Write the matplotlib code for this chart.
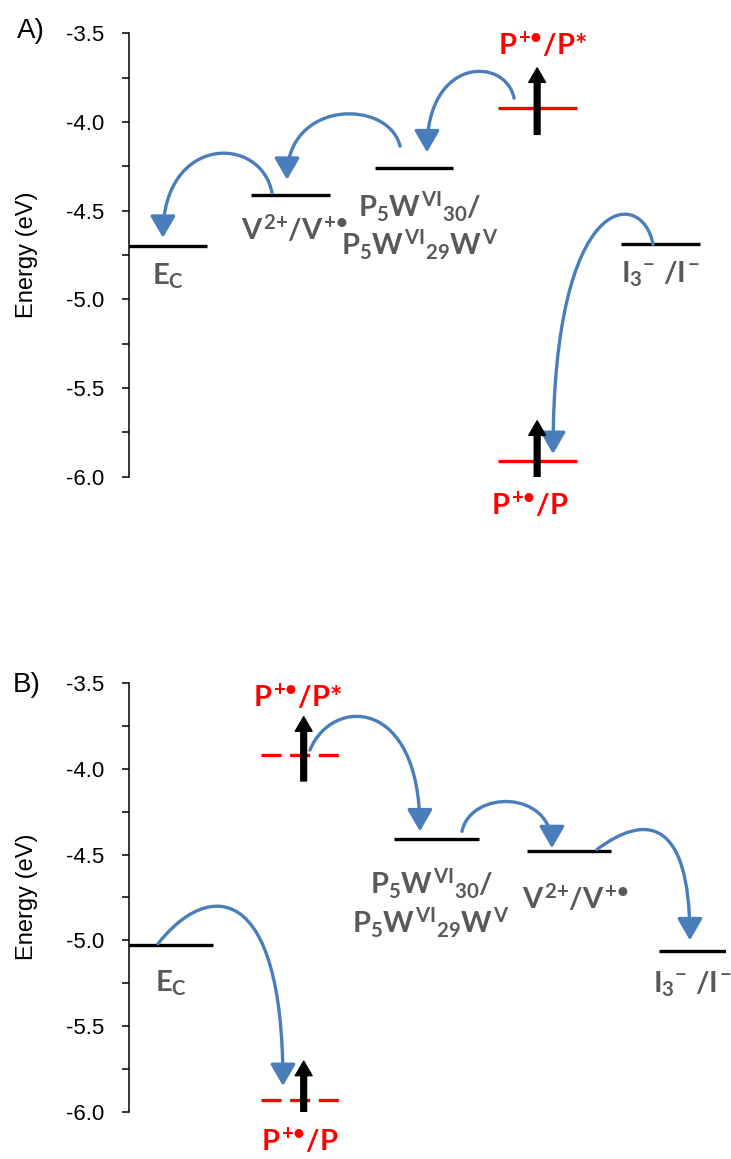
import numpy as np
import matplotlib
matplotlib.use("Agg")
import matplotlib.pyplot as plt
from matplotlib.patches import FancyArrowPatch, ArrowStyle
from matplotlib.path import Path

plt.rcParams["font.family"] = ["Liberation Sans", "DejaVu Sans"]
plt.rcParams["mathtext.fontset"] = "custom"
for k in ("rm", "it", "bf", "sf"):
    plt.rcParams["mathtext." + k] = "Lato:bold"

GRAY = "#595959"
RED = "#FF0000"
BLUE = "#4A7EBB"

# ---- panel A: energy levels (eV) ----
a_labels = [r"$E_C$", r"$V^{2{+}}/V^{+•}$",
            "$P_5W^{VI}{}_{30}/$\n$P_5W^{VI}{}_{29}W^V$",
            r"$P^{+•}/P{*}$", r"$I_3{}^{-}\ /I^{-}$", r"$P^{+•}/P$"]
a_slot = [0, 1, 2, 3, 4, 3]
a_energy = [-4.70, -4.41, -4.26, -3.92, -4.69, -5.91]
a_dye = [False, False, False, True, False, True]
# electron transfer arrows: level index from -> to
a_from = [1, 2, 3, 4]
a_to = [0, 1, 2, 5]

# ---- panel B ----
b_labels = [r"$E_C$", r"$P^{+•}/P{*}$",
            "$P_5W^{VI}{}_{30}/$\n$P_5W^{VI}{}_{29}W^V$",
            r"$V^{2{+}}/V^{+•}$", r"$I_3{}^{-}\ /I^{-}$", r"$P^{+•}/P$"]
b_slot = [0, 1, 2, 3, 4, 1]
b_energy = [-5.03, -3.92, -4.41, -4.48, -5.06, -5.93]
b_dye = [False, True, False, False, False, True]
b_from = [1, 2, 3, 0]
b_to = [2, 3, 4, 5]

# styling / layout (label offsets in pixels, arrow geometry)
a_label_off = [(0, -30), (4, -35), (6, -58), (5, 62), (0, -30), (-7, -45)]
b_label_off = [(0, -38), (-6, 58), (-5, -64), (6, -48), (-9, -34), (-4, -42)]
# (start dx, start dy, end dx, end dy, control height, control x frac)
a_arrow_geom = [(-0.152, 0.01, -0.037, 0.047, -4.07, 0.1),
                (-0.113, 0.124, -0.03, 0.084, -3.87, 0.1),
                (-0.187, 0.054, 0.106, 0.089, -3.63, 0.1),
                (-0.06, 0.0, 0.129, 0.038, -4.371, 0.1)]
b_arrow_geom = [(0.047, 0.03, -0.124, 0.046, -3.576, 0.2),
                (0.193, 0.046, -0.129, 0.018, -4.12, 0.1),
                (0.21, 0.01, -0.089, 0.06, -4.267, 0.5),
                (-0.098, 0.01, -0.156, 0.08, -4.648, 0.4)]

HW = 0.32

fig = plt.figure(figsize=(7.31, 11.59), dpi=100)
axA = fig.add_axes([129 / 731, 1 - 476.7 / 1159, 600 / 731, (476.7 - 33.3) / 1159])
axB = fig.add_axes([129 / 731, 1 - 1111.7 / 1159, 597 / 731, (1111.7 - 683.3) / 1159])


def draw_panel(ax, labels, slot, energy, dye, src, dst, label_off, geom, xlim, dashed):
    ax.set_xlim(*xlim)
    ax.set_ylim(-6.0, -3.5)
    for s in ("top", "right", "bottom"):
        ax.spines[s].set_visible(False)
    ax.spines["left"].set_linewidth(1.1)
    ax.set_xticks([])
    major = np.arange(-6.0, -3.49, 0.5)
    ax.set_yticks(major)
    ax.set_yticklabels([f"{v:.1f}" for v in major])
    ax.set_yticks(np.arange(-5.75, -3.5, 0.5), minor=True)
    ax.tick_params(axis="y", which="both", direction="out", length=5, width=1.1)
    ax.tick_params(axis="y", which="major", labelsize=16, pad=13)

    for i in range(len(energy)):
        x0, e = slot[i], energy[i]
        if dye[i]:
            ls = (0, (6, 2.6)) if dashed else "-"
            ax.plot([x0 - HW, x0 + HW], [e, e], color=RED, lw=2.4, ls=ls,
                    solid_capstyle="butt", dash_capstyle="butt", zorder=2)
            up = FancyArrowPatch((x0, e - 0.15), (x0, e + 0.225),
                                 arrowstyle=ArrowStyle.Simple(head_length=0.95, head_width=1.1, tail_width=0.38),
                                 mutation_scale=11, color="black", shrinkA=0, shrinkB=0, zorder=4)
            ax.add_patch(up)
            col = RED
        else:
            ax.plot([x0 - HW, x0 + HW], [e, e], color="black", lw=2.4,
                    solid_capstyle="butt", zorder=2)
            col = GRAY
        dx, dy = label_off[i]
        ax.annotate(labels[i], (x0, e), xytext=(dx, dy), textcoords="offset pixels",
                    ha="center", va="center", fontsize=21, color=col,
                    linespacing=1.15, annotation_clip=False)

    for k in range(len(src)):
        i, j = src[k], dst[k]
        sdx, sdy, edx, edy, yc, f1 = geom[k]
        p0 = (slot[i] + sdx, energy[i] + sdy)
        p3 = (slot[j] + edx, energy[j] + edy)
        c1 = (p0[0] + f1 * (p3[0] - p0[0]), yc)
        c2 = (p3[0], yc)
        path = Path([p0, c1, c2, p3], [Path.MOVETO, Path.CURVE4, Path.CURVE4, Path.CURVE4])
        arr = FancyArrowPatch(path=path, arrowstyle=ArrowStyle("-|>", head_length=0.95, head_width=0.55),
                              mutation_scale=14, color=BLUE, lw=2.4, zorder=3)
        ax.add_patch(arr)


draw_panel(axA, a_labels, a_slot, a_energy, a_dye, a_from, a_to, a_label_off,
           a_arrow_geom, (-0.3125, 4.557), False)
draw_panel(axB, b_labels, b_slot, b_energy, b_dye, b_from, b_to, b_label_off,
           b_arrow_geom, (-0.3165, 4.183), True)

fig.text(27 / 731, 1 - 255 / 1159, "Energy (eV)", rotation=90, ha="center", va="center", fontsize=17)
fig.text(27 / 731, 1 - 897 / 1159, "Energy (eV)", rotation=90, ha="center", va="center", fontsize=17)
fig.text(17 / 731, 1 - 31 / 1159, "A)", ha="left", va="center", fontsize=20)
fig.text(13 / 731, 1 - 685 / 1159, "B)", ha="left", va="center", fontsize=20)

fig.savefig("out.png", dpi=100)
